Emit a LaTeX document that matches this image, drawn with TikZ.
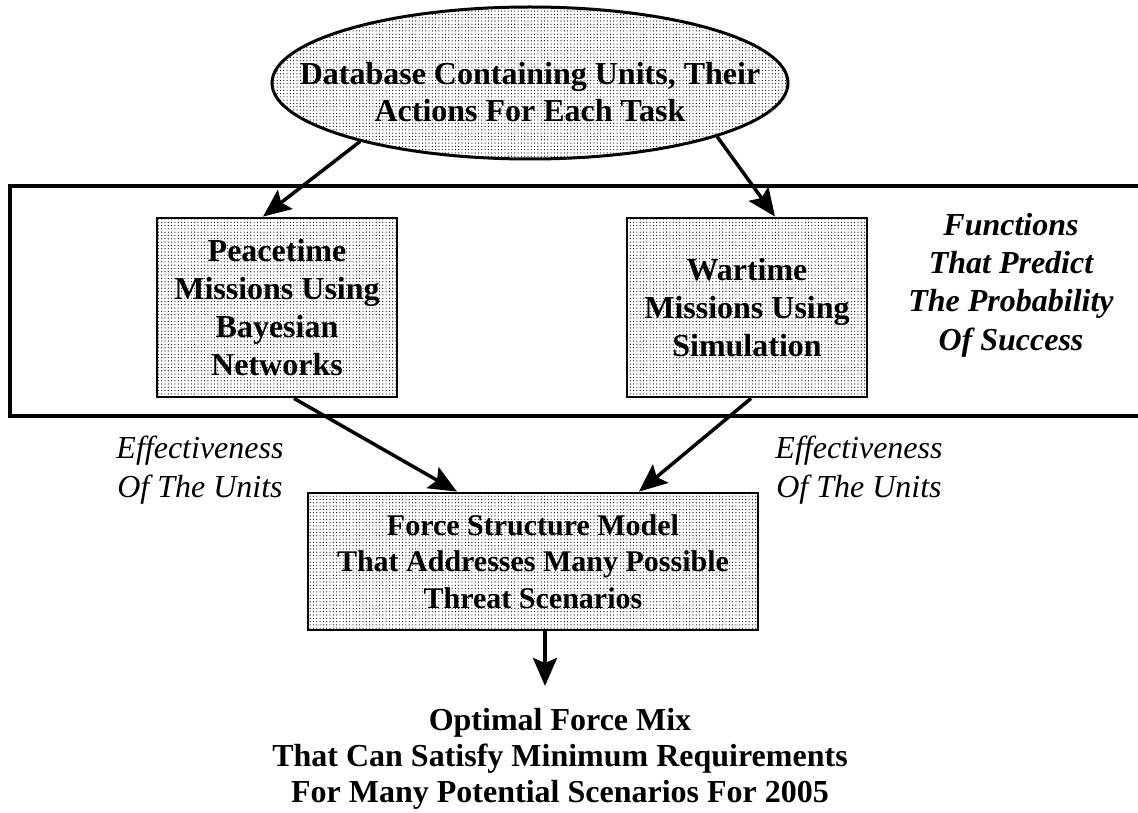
\documentclass[tikz,border=0pt]{standalone}
\usepackage{fontspec}
\setmainfont{Liberation Serif}
\usetikzlibrary{arrows.meta,patterns.meta,shapes.geometric,calc}
\begin{document}
\begin{tikzpicture}[x=1pt,y=-1pt,
  dotfill/.style={pattern={Dots[distance=3.3pt,radius=0.6pt]},pattern color=black},
  bx/.style={draw,line width=2.8pt,dotfill,align=center,inner sep=0pt,
    font=\fontsize{32}{38}\selectfont\bfseries},
  txt/.style={align=center,inner sep=0pt,font=\fontsize{32}{37}\selectfont\bfseries},
  fnt/.style={align=center,inner sep=0pt,font=\fontsize{32}{38.3}\selectfont\bfseries\itshape},
  eff/.style={align=center,inner sep=0pt,font=\fontsize{32}{39}\selectfont\itshape},
  arr/.style={line width=3.5pt,-{Stealth[length=28pt,width=24pt,inset=5pt]}}]
\useasboundingbox (0,0) rectangle (1138,813);

% frame
\draw[line width=4pt] (1138,186) -- (10,186) -- (10,416) -- (1138,416);

% database ellipse
\node[ellipse,draw,line width=3pt,dotfill,minimum width=516pt,minimum height=152pt,inner sep=0pt] (db) at (530,83) {};
\node[txt] (dbt) at (530,92.5) {Database Containing Units, Their\\Actions For Each Task};

% boxes
\node[bx,minimum width=240pt,minimum height=179pt] (pw) at (277,307.5) {Peacetime\\Missions Using\\Bayesian\\Networks};
\node[bx,minimum width=240pt,minimum height=179pt] (wt) at (747,307.5) {Wartime\\Missions Using\\Simulation};
\node[bx,minimum width=450pt,minimum height=137pt,font=\fontsize{30}{36.5}\selectfont\bfseries] (fs) at (533,561.5) {Force Structure Model\\That Addresses Many Possible\\Threat Scenarios};

% labels
\node[fnt] (fn) at (1011,285) {Functions\\That Predict\\The Probability\\Of Success};
\node[eff] (e1) at (200,470.5) {Effectiveness\\Of The Units};
\node[eff] (e2) at (859,470.5) {Effectiveness\\Of The Units};
\node[txt,font=\fontsize{32}{36}\selectfont\bfseries] (out) at (560,758.5) {Optimal Force Mix\\That Can Satisfy Minimum Requirements\\For Many Potential Scenarios For 2005};

\coordinate (outtop) at (545,686);

% connectors
\draw[arr] (db.199.4) -- ([xshift=-14pt]pw.north);
\draw[arr] (db.-16.7) -- ([xshift=28pt]wt.north);
\draw[arr] ([xshift=17pt]pw.south) -- ([xshift=-76pt]fs.north);
\draw[arr] ([xshift=4pt]wt.south) -- ([xshift=106pt]fs.north);
\draw[arr] ([xshift=12pt]fs.south) -- (outtop);
\end{tikzpicture}
\end{document}
